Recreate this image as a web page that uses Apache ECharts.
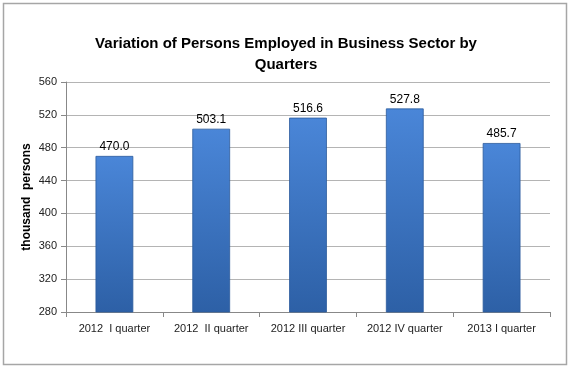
<!DOCTYPE html>
<html><head><meta charset="utf-8">
<script src="https://cdn.jsdelivr.net/npm/echarts@6/dist/echarts.min.js"></script>
<style>html,body{margin:0;padding:0;background:#fff}#c{width:572px;height:369px}</style>
</head><body><div id="c"></div>
<script>
const categories = ['2012  I quarter', '2012  II quarter', '2012 III quarter', '2012 IV quarter', '2013 I quarter'];
const values = [470.0, 503.1, 516.6, 527.8, 485.7];
const yTicks = [280, 320, 360, 400, 440, 480, 520, 560];
const titleText = 'Variation of Persons Employed in Business Sector by\nQuarters';
const yName = 'thousand  persons';

const chart = echarts.init(document.getElementById('c'), null, {renderer: 'canvas'});
const F = 'Liberation Sans, Arial, sans-serif';
chart.setOption({
  backgroundColor: '#fff',
  animation: false,
  graphic: [{
    type: 'rect', shape: {x: 3.5, y: 3.5, width: 563, height: 361},
    style: {fill: 'none', stroke: '#a6a6a6', lineWidth: 1.5}, silent: true
  }],
  title: {
    text: titleText, left: 'center', top: 28,
    textStyle: {fontFamily: F, fontSize: 15, fontWeight: 'bold', color: '#000', lineHeight: 21}
  },
  grid: {left: 66, right: 22, top: 82, bottom: 57},
  xAxis: {
    type: 'category', data: categories,
    axisLine: {lineStyle: {color: '#888', width: 1}},
    axisTick: {show: true, alignWithLabel: false, length: 5, lineStyle: {color: '#888'}},
    axisLabel: {fontFamily: F, fontSize: 11, color: '#222', margin: 11, interval: 0}
  },
  yAxis: {
    type: 'value', min: yTicks[0], max: yTicks[yTicks.length - 1], interval: 40,
    name: yName, nameLocation: 'middle', nameGap: 33, nameMoveOverlap: false,
    nameTextStyle: {fontFamily: F, fontSize: 12, fontWeight: 'bold', color: '#000'},
    axisLine: {show: true, lineStyle: {color: '#888'}},
    axisTick: {show: true, length: 5, lineStyle: {color: '#888'}},
    axisLabel: {fontFamily: F, fontSize: 11, color: '#222', margin: 9},
    splitLine: {lineStyle: {color: '#b4b4b4'}}
  },
  series: [{
    type: 'bar', data: values, barWidth: '39%',
    itemStyle: {
      color: new echarts.graphic.LinearGradient(0, 0, 0, 1, [
        {offset: 0, color: '#4a86d8'}, {offset: 1, color: '#2d60a6'}
      ]),
      borderColor: '#2b5a9c', borderWidth: 0.8
    },
    label: {show: true, position: 'top', distance: 3, fontFamily: F, fontSize: 12, color: '#000',
      formatter: p => p.value.toFixed(1)}
  }]
});
</script></body></html>
